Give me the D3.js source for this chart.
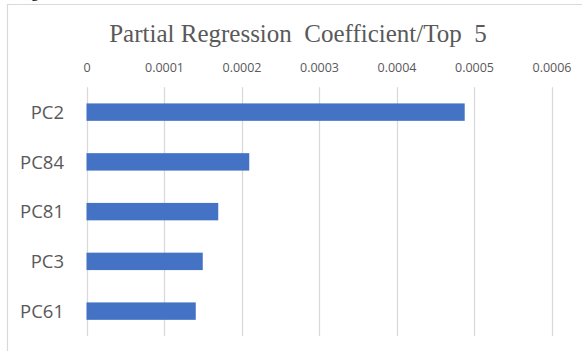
<!DOCTYPE html>
<html>
<head>
<meta charset="utf-8">
<script src="https://cdn.jsdelivr.net/npm/d3@7"></script>
<style>
    body { margin: 0; background: #fff; }
    svg { display: block; }
</style>
</head>
<body>
<div id="chart"></div>
<script>
// values
var categories = ["PC2", "PC84", "PC81", "PC3", "PC61"];
var values = [0.000488, 0.00021, 0.00017, 0.00015, 0.000141];
var tickValues = [0, 0.0001, 0.0002, 0.0003, 0.0004, 0.0005, 0.0006];
var titleText = "Partial Regression\u00a0 Coefficient/Top\u00a0 5";

var width = 582,
    height = 351;

var svg = d3.select("#chart").append("svg")
    .attr("width", width)
    .attr("height", height);

svg.append("rect")
    .attr("width", width)
    .attr("height", height)
    .attr("fill", "#fff");

// cut-off caption above the chart frame (only the descender shows)
svg.append("text")
    .attr("x", 31)
    .attr("y", -3)
    .attr("font-family", "Liberation Serif")
    .attr("font-size", 16)
    .attr("fill", "#000")
    .text("g");

// chart frame (right and bottom edges are cut off)
svg.append("path")
    .attr("d", "M7.5," + (height + 2) + "V4.5H" + (width + 2))
    .attr("fill", "none")
    .attr("stroke", "#d9d9d9")
    .attr("stroke-width", 1.2);

var x = d3.scaleLinear()
    .domain([0, 0.0006])
    .range([86.5, 551.5]);

var y = d3.scaleBand()
    .domain(categories)
    .range([87.25, 336])
    .paddingInner(0.65)
    .paddingOuter(0.325);

// gridlines
svg.append("g")
    .selectAll("line")
    .data(tickValues)
    .enter().append("line")
    .attr("x1", function(d) { return Math.round(x(d)) + 0.5; })
    .attr("x2", function(d) { return Math.round(x(d)) + 0.5; })
    .attr("y1", 87.25)
    .attr("y2", 336)
    .attr("stroke", "#d9d9d9")
    .attr("stroke-width", 1.3);

// top axis labels
var xAxis = d3.axisTop(x)
    .tickValues(tickValues)
    .tickSize(0)
    .tickPadding(0)
    .tickFormat(function(d) { return d === 0 ? "0" : d.toFixed(4); });

var axisG = svg.append("g")
    .attr("transform", "translate(0,72)")
    .call(xAxis);
axisG.select(".domain").remove();
axisG.selectAll("text")
    .attr("font-family", "Open Sans")
    .attr("font-size", 12.5)
    .attr("fill", "#595959");

// bars
svg.append("g")
    .selectAll("rect")
    .data(values)
    .enter().append("rect")
    .attr("x", x(0))
    .attr("y", function(d, i) { return y(categories[i]); })
    .attr("width", function(d) { return x(d) - x(0); })
    .attr("height", y.bandwidth())
    .attr("fill", "#4472c4");

// category labels
var yAxis = d3.axisLeft(y)
    .tickSize(0)
    .tickPadding(0);

var yG = svg.append("g")
    .attr("transform", "translate(64,0)")
    .call(yAxis);
yG.select(".domain").remove();
yG.selectAll("text")
    .attr("font-family", "Open Sans")
    .attr("font-size", 18.5)
    .attr("fill", "#595959")
    .attr("dy", "0.36em");

// title
svg.append("text")
    .attr("x", 298)
    .attr("y", 41.7)
    .attr("text-anchor", "middle")
    .attr("font-family", "Liberation Serif")
    .attr("font-size", 25)
    .attr("fill", "#595959")
    .text(titleText);
</script>
</body>
</html>
